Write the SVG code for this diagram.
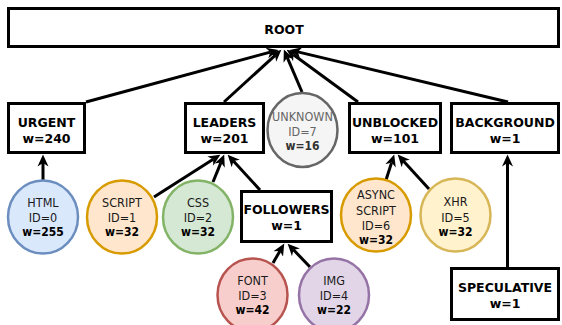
<svg xmlns="http://www.w3.org/2000/svg" width="562" height="325" viewBox="0 0 562 325">
<style>
.box{fill:#fff;stroke:#000;stroke-width:3}
.bt{font-family:"DejaVu Sans",sans-serif;font-weight:bold;font-size:12.5px;text-anchor:middle;fill:#000}
.ct{font-family:"DejaVu Sans Condensed","DejaVu Sans",sans-serif;font-stretch:condensed;font-size:12.5px;text-anchor:middle;fill:#1a1a1a}
.cw{font-family:"DejaVu Sans Condensed","DejaVu Sans",sans-serif;font-stretch:condensed;font-weight:bold;font-size:12px;text-anchor:middle;fill:#000}
.c{stroke-width:2.5}
.e{stroke:#000;stroke-width:3;fill:none;marker-end:url(#a)}
</style>
<defs>
<marker id="a" markerUnits="userSpaceOnUse" markerWidth="13" markerHeight="13" refX="3.5" refY="6.5" orient="auto">
<path d="M0,1 L12,6.5 L0,12 L3.5,6.5 Z" fill="#000"/>
</marker>
</defs>
<rect width="562" height="325" fill="#fff"/>
<g id="connectors">
<line class="e" x1="86" y1="102" x2="270.3" y2="52.1"/>
<line class="e" x1="224" y1="102" x2="275.1" y2="55.4"/>
<line class="e" x1="302" y1="92" x2="287.2" y2="57.4"/>
<line class="e" x1="358" y1="102" x2="293.5" y2="54.7"/>
<line class="e" x1="508" y1="102" x2="297.8" y2="51.9"/>
<line class="e" x1="43" y1="180" x2="43" y2="163"/>
<line class="e" x1="154" y1="197" x2="213.2" y2="159.3"/>
<line class="e" x1="213" y1="182" x2="221" y2="162.4"/>
<line class="e" x1="260" y1="190" x2="233.4" y2="160.9"/>
<line class="e" x1="386" y1="180" x2="391.6" y2="162.6"/>
<line class="e" x1="429" y1="189" x2="403.4" y2="160.9"/>
<line class="e" x1="273" y1="263" x2="280" y2="250.9"/>
<line class="e" x1="310" y1="267" x2="293.5" y2="249.8"/>
<line class="e" x1="507.5" y1="267" x2="507.5" y2="163"/>
</g>
<g id="root"><rect class="box" x="8.5" y="8.5" width="550" height="38"/><text class="bt" x="284" y="34">ROOT</text></g>
<g id="urgent"><rect class="box" x="8.5" y="103.5" width="76" height="49"/><text class="bt" x="46.5" y="126.5">URGENT</text><text class="bt" x="46.5" y="143">w=240</text></g>
<g id="leaders"><rect class="box" x="185.5" y="103.5" width="78" height="49"/><text class="bt" x="224.5" y="126.5">LEADERS</text><text class="bt" x="224.5" y="143">w=201</text></g>
<g id="unblocked"><rect class="box" x="349.5" y="103.5" width="91" height="49"/><text class="bt" x="395" y="126.5">UNBLOCKED</text><text class="bt" x="395" y="142.5">w=101</text></g>
<g id="background"><rect class="box" x="451.5" y="103.5" width="107" height="49"/><text class="bt" x="505" y="126.5">BACKGROUND</text><text class="bt" x="505" y="142.5">w=1</text></g>
<g id="followers"><rect class="box" x="241.5" y="191.5" width="90" height="50"/><text class="bt" x="286.5" y="213.5">FOLLOWERS</text><text class="bt" x="286.5" y="229.5">w=1</text></g>
<g id="speculative"><rect class="box" x="451.5" y="268.5" width="107" height="51"/><text class="bt" x="505" y="292">SPECULATIVE</text><text class="bt" x="505" y="308">w=1</text></g>
<g id="unknown"><ellipse class="c" cx="302.5" cy="130" rx="35" ry="37" fill="#f5f5f5" stroke="#666"/><text class="ct" x="302.5" y="121" style="fill:#666">UNKNOWN</text><text class="ct" x="302.5" y="135.5" style="fill:#666">ID=7</text><text class="cw" x="302.5" y="150" style="fill:#333">w=16</text></g>
<g id="html"><ellipse class="c" cx="43" cy="217" rx="35" ry="36.5" fill="#dae8fc" stroke="#6c8ebf"/><text class="ct" x="43" y="207">HTML</text><text class="ct" x="43" y="222">ID=0</text><text class="cw" x="43" y="236">w=255</text></g>
<g id="script"><ellipse class="c" cx="122" cy="217" rx="35" ry="36.5" fill="#ffe6cc" stroke="#d79b00"/><text class="ct" x="122" y="207">SCRIPT</text><text class="ct" x="122" y="222">ID=1</text><text class="cw" x="122" y="236">w=32</text></g>
<g id="css"><ellipse class="c" cx="198" cy="217" rx="35" ry="36.5" fill="#d5e8d4" stroke="#82b366"/><text class="ct" x="198" y="207">CSS</text><text class="ct" x="198" y="222">ID=2</text><text class="cw" x="198" y="236">w=32</text></g>
<g id="async"><ellipse class="c" cx="376" cy="215" rx="35" ry="36.5" fill="#ffe6cc" stroke="#d79b00"/><text class="ct" x="376" y="199">ASYNC</text><text class="ct" x="376" y="215">SCRIPT</text><text class="ct" x="376" y="230">ID=6</text><text class="cw" x="376" y="244">w=32</text></g>
<g id="xhr"><ellipse class="c" cx="455.5" cy="215" rx="35" ry="36.5" fill="#fff2cc" stroke="#d6b656"/><text class="ct" x="455.5" y="206">XHR</text><text class="ct" x="455.5" y="222">ID=5</text><text class="cw" x="455.5" y="236">w=32</text></g>
<g id="font"><ellipse class="c" cx="252.5" cy="295" rx="35" ry="36.5" fill="#f8cecc" stroke="#b85450"/><text class="ct" x="252.5" y="285">FONT</text><text class="ct" x="252.5" y="300">ID=3</text><text class="cw" x="252.5" y="314">w=42</text></g>
<g id="img"><ellipse class="c" cx="334" cy="295" rx="35" ry="36.5" fill="#e1d5e7" stroke="#9673a6"/><text class="ct" x="334" y="285">IMG</text><text class="ct" x="334" y="300">ID=4</text><text class="cw" x="334" y="314">w=22</text></g>
</svg>
